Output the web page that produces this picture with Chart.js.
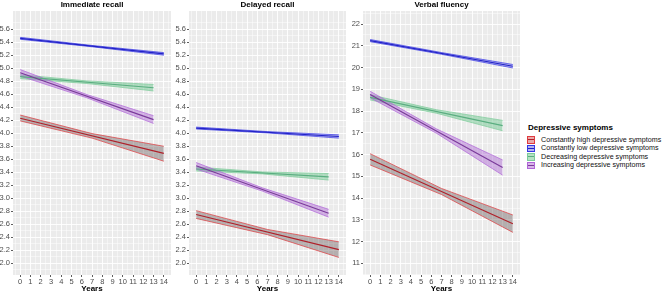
<!DOCTYPE html>
<html>
<head>
<meta charset="utf-8">
<script src="https://cdn.jsdelivr.net/npm/chart.js@4.4.1/dist/chart.umd.min.js"></script>
<style>
  body { margin: 0; background: #fff; width: 669px; height: 295px; overflow: hidden; position: relative;
         font-family: "Liberation Sans", Arial, sans-serif; }
  canvas { position: absolute; top: 0; }
  .lg { position: absolute; white-space: nowrap; color: #000; }
  .lg-title { left: 528px; top: 123px; font-size: 8px; font-weight: bold; line-height: 10px; }
  .lg-item { left: 541px; font-size: 7.15px; line-height: 8px; color: #111; }
  .key { position: absolute; left: 527px; width: 5.6px; height: 5.6px; border: 0.7px solid; }
  .key i { position: absolute; left: 0; right: 0; top: 2.3px; height: 1px; }
</style>
</head>
<body>
<canvas id="imm" width="172" height="295" style="left:0px"></canvas>
<canvas id="del" width="175" height="295" style="left:172px"></canvas>
<canvas id="flu" width="174" height="295" style="left:347px"></canvas>
<div id="legend"></div>
<script>
// groups in legend order
const groupNames = [
  'Constantly high depressive symptoms',
  'Constantly low depressive symptoms',
  'Decreasing depressive symptoms',
  'Increasing depressive symptoms'
];
const panelTitles = ['Immediate recall', 'Delayed recall', 'Verbal fluency'];

// years covered by each group's fitted line / confidence band
const fitYears = [[0, 14], [0, 14], [0, 13], [0, 13]];
const ribbonYears = [[0, 7, 14], [0, 7, 14], [0, 6.5, 13], [0, 6.5, 13]];

// Immediate recall
const immFit  = [[4.23, 3.69], [5.46, 5.22], [4.87, 4.70], [4.93, 4.21]];
const immLow  = [[4.19, 3.925, 3.57], [5.445, 5.33, 5.20], [4.84, 4.765, 4.65], [4.88, 4.545, 4.15]];
const immHigh = [[4.28, 3.995, 3.80], [5.475, 5.35, 5.24], [4.90, 4.805, 4.75], [4.98, 4.595, 4.27]];

// Delayed recall
const delFit  = [[2.75, 2.21], [4.08, 3.95], [3.45, 3.33], [3.50, 2.77]];
const delLow  = [[2.69, 2.44, 2.09], [4.065, 4.005, 3.925], [3.42, 3.375, 3.28], [3.45, 3.11, 2.71]];
const delHigh = [[2.81, 2.52, 2.33], [4.095, 4.025, 3.975], [3.48, 3.405, 3.38], [3.55, 3.16, 2.83]];

// Verbal fluency
const fluFit  = [[15.78, 12.82], [21.24, 20.06], [18.63, 17.33], [18.76, 15.40]];
const fluLow  = [[15.52, 14.16, 12.42], [21.19, 20.61, 19.98], [18.51, 17.90, 17.09], [18.61, 16.98, 15.05]];
const fluHigh = [[16.04, 14.44, 13.22], [21.29, 20.69, 20.14], [18.75, 18.06, 17.57], [18.91, 17.18, 15.75]];

// axis breaks
const yearTicks = [0, 1, 2, 3, 4, 5, 6, 7, 8, 9, 10, 11, 12, 13, 14];
const recallTicks = [2.0, 2.2, 2.4, 2.6, 2.8, 3.0, 3.2, 3.4, 3.6, 3.8, 4.0, 4.2, 4.4, 4.6, 4.8, 5.0, 5.2, 5.4, 5.6];
const fluencyTicks = [11, 12, 13, 14, 15, 16, 17, 18, 19, 20, 21, 22];

const lineColors = ['#b0202a', '#2222c8', '#5aae80', '#7a3a9a'];
const edgeColors = ['#e03a3e', '#3838e6', '#7ccb9a', '#b066d8'];
const bandColors = ['rgba(105,90,90,0.42)', 'rgba(90,90,230,0.4)', 'rgba(100,195,135,0.45)', 'rgba(170,100,210,0.45)'];
const keyColors = ['#eaaaaa', '#b4b4ec', '#b6e2c4', '#d8b4e8'];

// major breaks plus the halfway minor breaks ggplot draws
function withMinor(major) {
  const step = major[1] - major[0];
  const out = [];
  major.forEach(v => { out.push({ value: v - step / 2, major: false }); out.push({ value: v, major: true }); });
  out.push({ value: major[major.length - 1] + step / 2, major: false });
  return out;
}

function datasets(fit, low, high) {
  const ds = [];
  groupNames.forEach((name, g) => {
    ds.push({
      data: ribbonYears[g].map((x, i) => ({ x, y: high[g][i] })),
      borderColor: edgeColors[g], borderWidth: 0.7, fill: false, order: 10 + 3 - g
    });
    ds.push({
      data: ribbonYears[g].map((x, i) => ({ x, y: low[g][i] })),
      borderColor: edgeColors[g], borderWidth: 0.7, fill: '-1', backgroundColor: bandColors[g], order: 10 + 3 - g
    });
  });
  groupNames.forEach((name, g) => {
    ds.push({
      label: name,
      data: fitYears[g].map((x, i) => ({ x, y: fit[g][i] })),
      borderColor: lineColors[g], borderWidth: 1.2, fill: false, order: 3 - g
    });
  });
  return ds;
}

function panel(id, title, fit, low, high, yTicks, yMin, yMax, yWidth, digits) {
  const yAll = withMinor(yTicks);
  const xAll = withMinor(yearTicks);
  const grid = {
    color: '#ffffff',
    lineWidth: ctx => (ctx.tick && ctx.tick.major) ? 0.9 : 0.45,
    tickColor: ctx => (ctx.tick && ctx.tick.major) ? '#333333' : 'rgba(0,0,0,0)',
    tickLength: 2,
    tickWidth: 0.8
  };
  const tickFont = { family: '"Liberation Sans", Arial, sans-serif', size: 7.5 };
  new Chart(document.getElementById(id), {
    type: 'line',
    data: { datasets: datasets(fit, low, high) },
    options: {
      responsive: false,
      animation: false,
      events: [],
      layout: { padding: { left: 0, right: 1, top: 0, bottom: 0 } },
      elements: { point: { radius: 0 }, line: { tension: 0 } },
      plugins: {
        legend: { display: false },
        tooltip: { enabled: false },
        title: {
          display: true, text: title, fullSize: false, color: '#000',
          font: { family: '"Liberation Sans", Arial, sans-serif', size: 8, weight: 'bold', lineHeight: '9px' },
          padding: { top: 0, bottom: 2 }
        }
      },
      scales: {
        x: {
          type: 'linear', min: -0.7, max: 14.7,
          grid: grid, border: { display: false },
          afterBuildTicks: s => { s.ticks = xAll.map(t => ({ value: t.value, major: t.major })); },
          afterFit: s => { s.height = 20; },
          ticks: {
            padding: 0, color: '#4d4d4d', font: tickFont, maxRotation: 0, autoSkip: false,
            callback: function (v, i, ticks) { return ticks[i].major ? String(v) : ''; }
          },
          title: {
            display: true, text: 'Years', color: '#000',
            font: { family: '"Liberation Sans", Arial, sans-serif', size: 8, weight: 'bold', lineHeight: 1.2 },
            padding: { top: 0, bottom: 1.8 }
          }
        },
        y: {
          type: 'linear', min: yMin, max: yMax,
          grid: grid, border: { display: false },
          afterBuildTicks: s => { s.ticks = yAll.map(t => ({ value: t.value, major: t.major })); },
          afterFit: s => { s.width = yWidth; },
          ticks: {
            padding: 1, color: '#4d4d4d', font: tickFont, autoSkip: false,
            callback: function (v, i, ticks) { return ticks[i].major ? Number(v).toFixed(digits) : ''; }
          }
        }
      }
    },
    plugins: [{
      id: 'panelBg',
      beforeDraw(chart) {
        const a = chart.chartArea, c = chart.ctx;
        c.save(); c.fillStyle = '#ebebeb'; c.fillRect(a.left, a.top, a.right - a.left, a.bottom - a.top); c.restore();
      }
    }]
  });
}

panel('imm', panelTitles[0], immFit, immLow, immHigh, recallTicks, 1.82, 5.88, 13, 1);
panel('del', panelTitles[1], delFit, delLow, delHigh, recallTicks, 1.82, 5.88, 17, 1);
panel('flu', panelTitles[2], fluFit, fluLow, fluHigh, fluencyTicks, 10.46, 22.6, 16, 0);

// legend
const legend = document.getElementById('legend');
let html = '<div class="lg lg-title">Depressive symptoms</div>';
groupNames.forEach((name, g) => {
  const cy = 139.5 + g * 8.5;
  html += '<div class="key" style="top:' + (cy - 3.5) + 'px;background:' + keyColors[g] + ';border-color:' + edgeColors[g] + '"><i style="background:' + lineColors[g] + '"></i></div>';
  html += '<div class="lg lg-item" style="top:' + (cy - 4) + 'px">' + name + '</div>';
});
legend.innerHTML = html;
</script>
</body>
</html>
